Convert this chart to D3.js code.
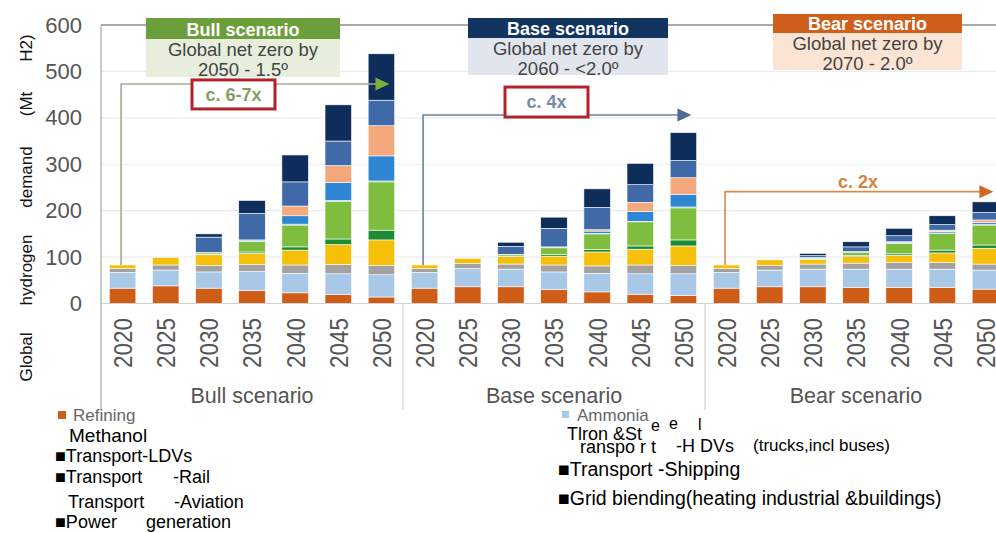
<!DOCTYPE html>
<html>
<head>
<meta charset="utf-8">
<script src="https://cdn.jsdelivr.net/npm/d3@7"></script>
<style>
  html, body { margin: 0; padding: 0; background: #ffffff; }
  svg { display: block; font-family: "Liberation Sans", Arial, sans-serif; }
</style>
</head>
<body>
<script>
// ---------------- DATA ----------------
const scenarios = ["Bull scenario", "Base scenario", "Bear scenario"];
const years = ["2020", "2025", "2030", "2035", "2040", "2045", "2050"];
const yTicks = [0, 100, 200, 300, 400, 500, 600];
const seriesNames = ["Refining", "Ammonia", "Methanol", "Iron & Steel", "Transport-LDVs",
  "Transport-HDVs", "Transport-Rail", "Transport-Shipping", "Transport-Aviation",
  "Grid blending", "Power generation"];

// each array: Bull 2020..2050, Base 2020..2050, Bear 2020..2050 (Mt H2)
const refining   = [33, 38, 33, 28, 23, 19, 14,   33, 36, 36, 30, 25, 20, 17,   33, 36, 36, 35, 35, 35, 31];
const ammonia    = [34, 34, 35, 41, 42, 45, 48,   34, 39, 38, 38, 40, 44, 47,   34, 36, 38, 39, 39, 39, 41];
const methanol   = [ 8, 11, 14, 15, 18, 20, 20,    8, 11, 11, 15, 16, 19, 18,    8, 10, 11, 13, 14, 14, 13];
const ironSteel  = [ 8, 16, 23, 24, 32, 43, 55,    8, 11, 16, 19, 30, 34, 42,    8, 12, 10, 14, 16, 21, 34];
const ldvs       = [ 0,  1,  1,  3,  7, 12, 21,    0,  0,  1,  4,  5,  7, 13,    0,  0,  1,  2,  3,  6,  7];
const hdvs       = [ 0,  1,  3, 23, 47, 81, 104,   0,  0,  3, 14, 34, 52, 69,    0,  0,  2,  7, 22, 36, 43];
const rail       = [ 0,  0,  0,  1,  2,  2,  2,    0,  0,  0,  1,  1,  1,  2,    0,  0,  0,  0,  1,  1,  1];
const shipping   = [ 0,  0,  1,  2, 18, 39, 54,    0,  0,  1,  1,  5, 21, 27,    0,  0,  1,  2,  2,  3,  4];
const aviation   = [ 0,  0,  0,  0, 21, 36, 65,    0,  0,  0,  0,  3, 20, 36,    0,  0,  0,  0,  1,  3,  6];
const grid       = [ 0,  0, 33, 57, 52, 53, 55,    0,  0, 17, 40, 48, 38, 37,    0,  0,  4, 10, 13, 12, 16];
const power      = [ 0,  0,  7, 28, 58, 78, 100,   0,  0,  9, 24, 40, 46, 60,    0,  0,  5, 11, 16, 19, 23];

const headerSub = [["Global net zero by", "2050 - 1.5º"],
                   ["Global net zero by", "2060 - <2.0º"],
                   ["Global net zero by", "2070 - 2.0º"]];
const growthLabels = ["c. 6-7x", "c. 4x", "c. 2x"];
const growthLevels = [473, 406, 241];   // value level of the growth arrows

// ---------------- BUILD TABLE ----------------
const seriesValues = [refining, ammonia, methanol, ironSteel, ldvs, hdvs, rail, shipping, aviation, grid, power];
const seriesColors = ["#cf5c17", "#a9c8e8", "#a2a2a2", "#f5bf0a", "#1d8a34", "#7fbd3f",
                      "#2f7f74", "#2f86d3", "#f4a97c", "#3f69a7", "#0f2d5a"];
const table = [];
scenarios.forEach((s, i) => {
  years.forEach((yr, j) => {
    const row = { scenario: s, year: yr };
    seriesNames.forEach((n, k) => { row[n] = seriesValues[k][i * 7 + j]; });
    table.push(row);
  });
});
const stacked = d3.stack().keys(seriesNames)(table);

// ---------------- LAYOUT ----------------
const W = 996, H = 533;
const plotLeft = 101, groupW = 302, yTop = 25, yZero = 303.5;
const svg = d3.select("body").append("svg").attr("width", W).attr("height", H);

const x0 = d3.scaleBand().domain(scenarios).range([plotLeft, plotLeft + 3 * groupW]).padding(0);
const x1 = d3.scaleBand().domain(years).range([0, groupW]).paddingInner(0.385).paddingOuter(0.1925);
const y = d3.scaleLinear().domain([0, 600]).range([yZero, yTop]);
const cx = (s, yr) => x0(s) + x1(yr) + x1.bandwidth() / 2;

// gridlines
svg.append("g").selectAll("line").data(yTicks.filter(t => t > 0 && t < 600)).join("line")
  .attr("x1", plotLeft).attr("x2", W).attr("y1", d => y(d)).attr("y2", d => y(d))
  .attr("stroke", "#ececec").attr("stroke-width", 1.2);

// bars
svg.append("g").selectAll("g").data(stacked).join("g")
  .attr("fill", (d, i) => seriesColors[i])
  .selectAll("rect").data(d => d).join("rect")
  .attr("x", d => x0(d.data.scenario) + x1(d.data.year))
  .attr("width", x1.bandwidth())
  .attr("y", d => y(d[1]))
  .attr("height", d => Math.max(0, y(d[0]) - y(d[1])))
  .attr("stroke", "#ffffff").attr("stroke-width", 0.6);

// axes lines / frame
svg.append("line").attr("x1", plotLeft).attr("x2", W).attr("y1", y(0)).attr("y2", y(0))
  .attr("stroke", "#d2d2d2").attr("stroke-width", 1.2);
svg.append("line").attr("x1", plotLeft).attr("x2", W).attr("y1", y(600)).attr("y2", y(600))
  .attr("stroke", "#8f8f8f").attr("stroke-width", 1.6);
svg.append("line").attr("x1", plotLeft).attr("x2", plotLeft).attr("y1", y(600)).attr("y2", 410)
  .attr("stroke", "#b5b5b5").attr("stroke-width", 1.4);
svg.append("g").selectAll("line").data(scenarios.slice(1)).join("line")
  .attr("x1", d => x0(d)).attr("x2", d => x0(d)).attr("y1", y(0)).attr("y2", 410)
  .attr("stroke", "#d8d8d8").attr("stroke-width", 1.4);

// y axis
const yAxis = svg.append("g").attr("transform", `translate(${plotLeft},0)`)
  .call(d3.axisLeft(y).tickValues(yTicks).tickSize(0).tickPadding(19));
yAxis.select(".domain").remove();
yAxis.selectAll("text").attr("font-size", 22).attr("fill", "#555")
  .attr("font-family", "Liberation Sans, Arial, sans-serif");

// year labels
svg.append("g").selectAll("text").data(table).join("text")
  .attr("transform", d => `translate(${cx(d.scenario, d.year)},343) rotate(-90)`)
  .attr("text-anchor", "middle").attr("dy", "0.36em")
  .attr("font-size", 26).attr("fill", "#555")
  .attr("textLength", 50).attr("lengthAdjust", "spacingAndGlyphs")
  .text(d => d.year);

// scenario group labels
svg.append("g").selectAll("text").data(scenarios).join("text")
  .attr("x", d => x0(d) + groupW / 2).attr("y", 403)
  .attr("text-anchor", "middle").attr("font-size", 21.5).attr("fill", "#555")
  .text(d => d);

// y axis title (spread words)
const yTitleWords = [["Global", 357], ["hydrogen", 270], ["demand", 177], ["(Mt", 104], ["H2)", 48]];
svg.append("g").selectAll("text").data(yTitleWords).join("text")
  .attr("transform", d => `translate(32,${d[1]}) rotate(-90)`)
  .attr("text-anchor", "middle").attr("font-size", 17).attr("fill", "#111")
  .text(d => d[0]);

// growth annotations
const annStyle = [
  { line: "#a6aa92", head: "#7aac3e", text: "#81a062", box: true, bx: 192, bw: 83, by: -4, bh: 29, ty: 17 },
  { line: "#6e8098", head: "#4f6b91", text: "#7b89a5", box: true, bx: 505, bw: 83, by: -28, bh: 30, ty: -7 },
  { line: "#d98b4e", head: "#d0661f", text: "#d4843f", box: false, bx: 858, ty: -4 }
];
scenarios.forEach((s, i) => {
  const st = annStyle[i];
  const yl = y(growthLevels[i]);
  const startX = cx(s, "2020") - 1.5;
  const total2020 = d3.sum(seriesValues, v => v[i * 7]);
  const endX = cx(s, "2050") + 2;
  const g = svg.append("g");
  g.append("path")
    .attr("d", `M${startX},${y(total2020)} V${yl} H${endX}`)
    .attr("fill", "none").attr("stroke", st.line).attr("stroke-width", 1.6);
  g.append("path")
    .attr("d", `M${endX - 8},${yl - 6.5} L${endX + 6},${yl} L${endX - 8},${yl + 6.5} Z`)
    .attr("fill", st.head);
  if (st.box) {
    g.append("rect").attr("x", st.bx).attr("y", yl + st.by).attr("width", st.bw).attr("height", st.bh)
      .attr("fill", "#fff").attr("stroke", "#b1232b").attr("stroke-width", 3);
  }
  g.append("text").attr("x", st.box ? st.bx + st.bw / 2 : st.bx).attr("y", yl + st.ty)
    .attr("text-anchor", "middle").attr("font-size", 18).attr("font-weight", "bold")
    .attr("fill", st.text).text(growthLabels[i]);
});

// scenario headers
const headStyle = [
  { x: 146, w: 194, y: 18, h1: 21, h2: 38, dark: "#6c9f3c", light: "#e7eedc" },
  { x: 468, w: 200, y: 18, h1: 20, h2: 37, dark: "#11355f", light: "#e1e6ee" },
  { x: 773, w: 189, y: 14, h1: 19, h2: 37, dark: "#cf5f1b", light: "#fbe4d4" }
];
scenarios.forEach((s, i) => {
  const hs = headStyle[i];
  const g = svg.append("g");
  g.append("rect").attr("x", hs.x).attr("y", hs.y + hs.h1).attr("width", hs.w).attr("height", hs.h2).attr("fill", hs.light);
  g.append("rect").attr("x", hs.x).attr("y", hs.y).attr("width", hs.w).attr("height", hs.h1).attr("fill", hs.dark);
  const c = hs.x + hs.w / 2;
  g.append("text").attr("x", c).attr("y", hs.y + hs.h1 - 3.5).attr("text-anchor", "middle")
    .attr("font-size", 18).attr("font-weight", "bold").attr("fill", "#fff").text(s);
  g.append("text").attr("x", c).attr("y", hs.y + hs.h1 + 17).attr("text-anchor", "middle")
    .attr("font-size", 18.5).attr("fill", "#444").text(headerSub[i][0]);
  g.append("text").attr("x", c).attr("y", hs.y + hs.h1 + 37).attr("text-anchor", "middle")
    .attr("font-size", 18.5).attr("fill", "#444").text(headerSub[i][1]);
});

// legend (as in the reference)
const leg = svg.append("g");
leg.append("rect").attr("x", 58).attr("y", 411).attr("width", 8).attr("height", 8).attr("fill", seriesColors[0]);
leg.append("text").attr("x", 73).attr("y", 421).attr("font-size", 17).attr("fill", "#666").text("Refining");
leg.append("rect").attr("x", 562).attr("y", 411).attr("width", 7).attr("height", 7).attr("fill", seriesColors[1]);
leg.append("text").attr("x", 577).attr("y", 421).attr("font-size", 17).attr("fill", "#666").text("Ammonia");

const legTexts = [
  { t: "Methanol", x: 69, y: 442, fs: 19 },
  { t: "■Transport-LDVs", x: 55, y: 462, fs: 18 },
  { t: "■Transport", x: 55, y: 483, fs: 18 },
  { t: "-Rail", x: 173, y: 483, fs: 18 },
  { t: "Transport", x: 68, y: 508, fs: 18 },
  { t: "-Aviation", x: 174, y: 508, fs: 18 },
  { t: "■Power", x: 55, y: 528, fs: 18 },
  { t: "generation", x: 146, y: 528, fs: 18 },
  { t: "Tlron &St", x: 567, y: 440, fs: 18 },
  { t: "e", x: 651, y: 431, fs: 16 },
  { t: "e", x: 669, y: 429, fs: 16 },
  { t: "l", x: 698, y: 430, fs: 16 },
  { t: "ranspo r t", x: 580, y: 453, fs: 18 },
  { t: "-H DVs", x: 676, y: 452, fs: 18 },
  { t: "(trucks,incl  buses)", x: 753, y: 451, fs: 17 },
  { t: "■Transport -Shipping", x: 558, y: 476, fs: 19.5 },
  { t: "■Grid biending(heating industrial &buildings)", x: 558, y: 505, fs: 19.5 }
];
leg.selectAll("text.lt").data(legTexts).join("text").attr("class", "lt")
  .attr("x", d => d.x).attr("y", d => d.y).attr("font-size", d => d.fs).attr("fill", "#000")
  .text(d => d.t);
</script>
</body>
</html>
